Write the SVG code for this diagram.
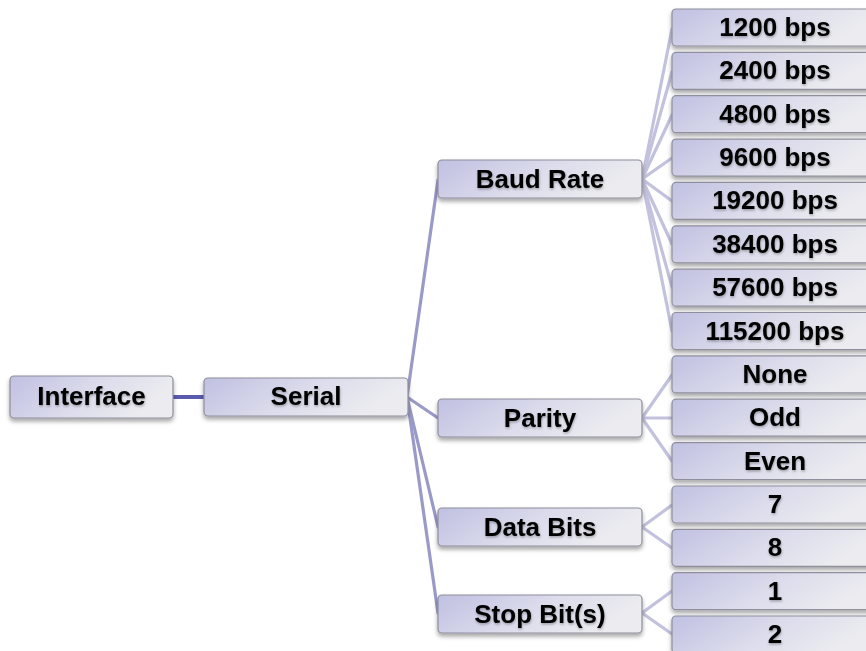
<svg xmlns="http://www.w3.org/2000/svg" width="866" height="651" viewBox="0 0 866 651">
<defs>
<linearGradient id="g" x1="0" y1="0" x2="1" y2="0.3">
<stop offset="0" stop-color="#c0c0e2"/>
<stop offset="0.55" stop-color="#dcdcec"/>
<stop offset="1" stop-color="#ececf0"/>
</linearGradient>
<filter id="sh" x="-10%" y="-30%" width="120%" height="170%">
<feDropShadow dx="0" dy="3" stdDeviation="2.2" flood-color="#000" flood-opacity="0.35"/>
</filter>
<filter id="ts" x="-10%" y="-30%" width="120%" height="170%">
<feDropShadow dx="0.5" dy="1.5" stdDeviation="1.2" flood-color="#000" flood-opacity="0.3"/>
</filter>
</defs>
<style>
.b{fill:url(#g);stroke:#8e8e9c;stroke-width:1.2;filter:url(#sh)}
.t{font-family:"Liberation Sans",Arial,sans-serif;font-weight:bold;font-size:26px;fill:#000;text-anchor:middle;filter:url(#ts)}
.c1{stroke:#5a5ab0;stroke-width:4;fill:none}
.c2{stroke:#9a9ac8;stroke-width:3.2;fill:none;stroke-linecap:round}
.c3{stroke:#c2c2de;stroke-width:3.2;fill:none;stroke-linecap:round}
</style>
<rect width="866" height="651" fill="#fff"/>
<g id="connectors">
<line class="c1" x1="173" y1="397" x2="204" y2="397"/>
<line class="c2" x1="407" y1="397" x2="438" y2="180"/>
<line class="c2" x1="407" y1="397" x2="438" y2="418"/>
<line class="c2" x1="407" y1="397" x2="438" y2="527"/>
<line class="c2" x1="407" y1="397" x2="438" y2="613"/>
<line class="c3" x1="642" y1="179" x2="672" y2="29"/>
<line class="c3" x1="642" y1="179" x2="672" y2="72"/>
<line class="c3" x1="642" y1="179" x2="672" y2="115"/>
<line class="c3" x1="642" y1="179" x2="672" y2="158"/>
<line class="c3" x1="642" y1="179" x2="672" y2="201"/>
<line class="c3" x1="642" y1="179" x2="672" y2="244"/>
<line class="c3" x1="642" y1="179" x2="672" y2="287"/>
<line class="c3" x1="642" y1="179" x2="672" y2="331"/>
<line class="c3" x1="642" y1="418" x2="672" y2="375"/>
<line class="c3" x1="642" y1="418" x2="672" y2="418"/>
<line class="c3" x1="642" y1="418" x2="672" y2="461"/>
<line class="c3" x1="642" y1="527" x2="672" y2="505"/>
<line class="c3" x1="642" y1="527" x2="672" y2="548"/>
<line class="c3" x1="642" y1="613" x2="672" y2="591"/>
<line class="c3" x1="642" y1="613" x2="672" y2="634"/>
</g>
<g id="interface"><rect class="b" x="10" y="376" width="163" height="42" rx="4"/><text class="t" x="91.5" y="405">Interface</text></g>
<g id="serial"><rect class="b" x="204" y="378" width="204" height="38" rx="4"/><text class="t" x="306" y="405">Serial</text></g>
<g id="baud"><rect class="b" x="438" y="160" width="204" height="38" rx="4"/><text class="t" x="540" y="188">Baud Rate</text></g>
<g id="parity"><rect class="b" x="438" y="399" width="204" height="38" rx="4"/><text class="t" x="540" y="427">Parity</text></g>
<g id="databits"><rect class="b" x="438" y="508" width="204" height="38" rx="4"/><text class="t" x="540" y="536">Data Bits</text></g>
<g id="stopbits"><rect class="b" x="438" y="595" width="204" height="38" rx="4"/><text class="t" x="540" y="623">Stop Bit(s)</text></g>
<g id="b1200"><rect class="b" x="672" y="9" width="206" height="37" rx="4"/><text class="t" x="775" y="36">1200 bps</text></g>
<g id="b2400"><rect class="b" x="672" y="52.4" width="206" height="37" rx="4"/><text class="t" x="775" y="79.4">2400 bps</text></g>
<g id="b4800"><rect class="b" x="672" y="95.7" width="206" height="37" rx="4"/><text class="t" x="775" y="122.7">4800 bps</text></g>
<g id="b9600"><rect class="b" x="672" y="139.1" width="206" height="37" rx="4"/><text class="t" x="775" y="166.1">9600 bps</text></g>
<g id="b19200"><rect class="b" x="672" y="182.4" width="206" height="37" rx="4"/><text class="t" x="775" y="209.4">19200 bps</text></g>
<g id="b38400"><rect class="b" x="672" y="225.8" width="206" height="37" rx="4"/><text class="t" x="775" y="252.8">38400 bps</text></g>
<g id="b57600"><rect class="b" x="672" y="269.2" width="206" height="37" rx="4"/><text class="t" x="775" y="296.2">57600 bps</text></g>
<g id="b115200"><rect class="b" x="672" y="312.5" width="206" height="37" rx="4"/><text class="t" x="775" y="339.5">115200 bps</text></g>
<g id="none"><rect class="b" x="672" y="355.9" width="206" height="37" rx="4"/><text class="t" x="775" y="382.9">None</text></g>
<g id="odd"><rect class="b" x="672" y="399.2" width="206" height="37" rx="4"/><text class="t" x="775" y="426.2">Odd</text></g>
<g id="even"><rect class="b" x="672" y="442.6" width="206" height="37" rx="4"/><text class="t" x="775" y="469.6">Even</text></g>
<g id="d7"><rect class="b" x="672" y="486" width="206" height="37" rx="4"/><text class="t" x="775" y="513">7</text></g>
<g id="d8"><rect class="b" x="672" y="529.3" width="206" height="37" rx="4"/><text class="t" x="775" y="556.3">8</text></g>
<g id="s1"><rect class="b" x="672" y="572.7" width="206" height="37" rx="4"/><text class="t" x="775" y="599.7">1</text></g>
<g id="s2"><rect class="b" x="672" y="616" width="206" height="37" rx="4"/><text class="t" x="775" y="643">2</text></g>
</svg>
